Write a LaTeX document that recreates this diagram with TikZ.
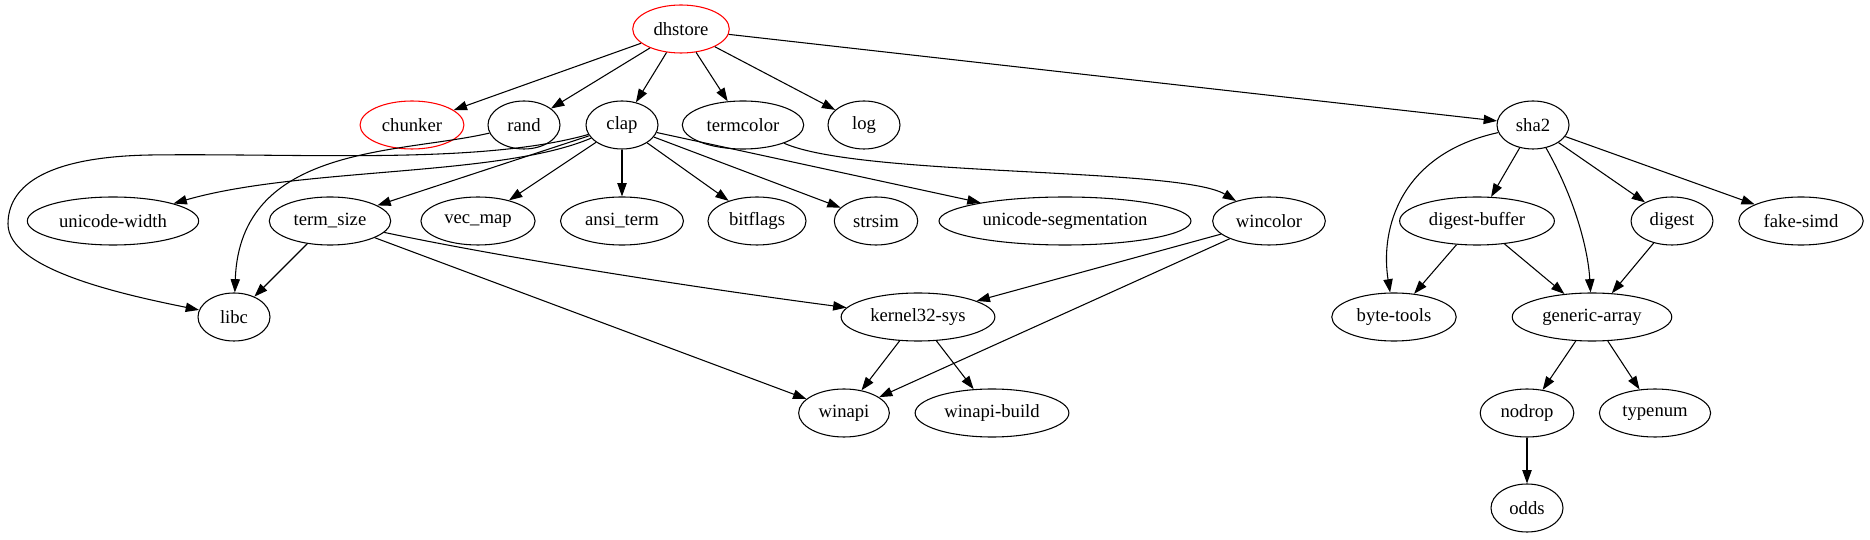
\documentclass[tikz,border=0pt]{standalone}
\usepackage{fontspec}
\setmainfont{Liberation Serif}
\usetikzlibrary{shapes.geometric,arrows.meta}

\begin{document}
\begin{tikzpicture}[x=0.75pt, y=0.75pt,
    crate/.style={draw, ellipse, line width=0.8pt, minimum width=54pt, minimum height=36pt,
      inner xsep=5pt, inner ysep=2pt, font=\fontsize{14}{16}\selectfont},
    root/.style={crate, draw=red},
    dep/.style={-{Triangle[length=10pt,width=7pt]}, line width=0.8pt}]
        \useasboundingbox (0,0) rectangle (1870,539);

        % Rank 0
        \node[root] (dhstore) at (681,510) {dhstore};

        % Rank 1
        \node[root]  (chunker)   at (412,414) {chunker};
        \node[crate] (rand)      at (524,414) {rand};
        \node[crate] (clap)      at (622,414) {clap};
        \node[crate] (termcolor) at (743,414) {termcolor};
        \node[crate] (log)       at (864,414) {log};
        \node[crate] (sha)       at (1533,414) {sha2};

        % Rank 2
        \node[crate] (uwidth)   at (113,318) {unicode-width};
        \node[crate] (termsize) at (330,318) {term\_size};
        \node[crate] (vecmap)   at (478,318) {vec\_map};
        \node[crate] (ansi)     at (622,318) {ansi\_term};
        \node[crate] (bitflags) at (757,318) {bitflags};
        \node[crate] (strsim)   at (876,318) {strsim};
        \node[crate] (useg)     at (1065,318) {unicode-segmentation};
        \node[crate] (wincolor) at (1269,318) {wincolor};
        \node[crate] (dbuf)     at (1477,318) {digest-buffer};
        \node[crate] (digest)   at (1672,318) {digest};
        \node[crate] (fsimd)    at (1801,318) {fake-simd};

        % Rank 3
        \node[crate] (libc)   at (234,222) {libc};
        \node[crate] (kernel) at (918,222) {kernel32-sys};
        \node[crate] (btools) at (1394,222) {byte-tools};
        \node[crate] (garray) at (1592,222) {generic-array};

        % Rank 4 and 5
        \node[crate] (winapi)  at (844,126) {winapi};
        \node[crate] (wbuild)  at (992,126) {winapi-build};
        \node[crate] (nodrop)  at (1527,126) {nodrop};
        \node[crate] (typenum) at (1655,126) {typenum};
        \node[crate] (odds)    at (1527,31) {odds};

        % dhstore deps
        \foreach \d in {chunker,rand,clap,termcolor,log,sha}
            \draw[dep] (dhstore) -- (\d);

        % clap deps
        \foreach \d in {termsize,vecmap,ansi,bitflags,strsim,useg}
            \draw[dep] (clap) -- (\d);
        \draw[dep] (clap) .. controls (500,362) and (300,372) .. (uwidth);
        \draw[dep] (clap) .. controls (480,374) and (300,386) .. (150,384)
            .. controls (40,382) and (8,350) .. (8,315)
            .. controls (8,270) and (120,245) .. (libc);
        \draw[dep] (rand) .. controls (400,385) and (240,395) .. (libc);

        % windows side
        \draw[dep] (termcolor) .. controls (860,362) and (1180,372) .. (wincolor);
        \draw[dep] (termsize) -- (libc);
        \draw[dep] (termsize) .. controls (520,278) and (720,248) .. (kernel);
        \draw[dep] (termsize) -- (winapi);
        \draw[dep] (wincolor) -- (kernel);
        \draw[dep] (wincolor) -- (winapi);
        \draw[dep] (kernel) -- (winapi);
        \draw[dep] (kernel) -- (wbuild);

        % sha2 deps
        \draw[dep] (sha) .. controls (1400,385) and (1380,310) .. (btools);
        \draw[dep] (sha) .. controls (1575,340) and (1588,290) .. (garray);
        \foreach \d in {dbuf,digest,fsimd}
            \draw[dep] (sha) -- (\d);
        \draw[dep] (dbuf) -- (btools);
        \draw[dep] (dbuf) -- (garray);
        \draw[dep] (digest) -- (garray);
        \draw[dep] (garray) -- (nodrop);
        \draw[dep] (garray) -- (typenum);
        \draw[dep] (nodrop) -- (odds);
    \end{tikzpicture}
\end{document}
